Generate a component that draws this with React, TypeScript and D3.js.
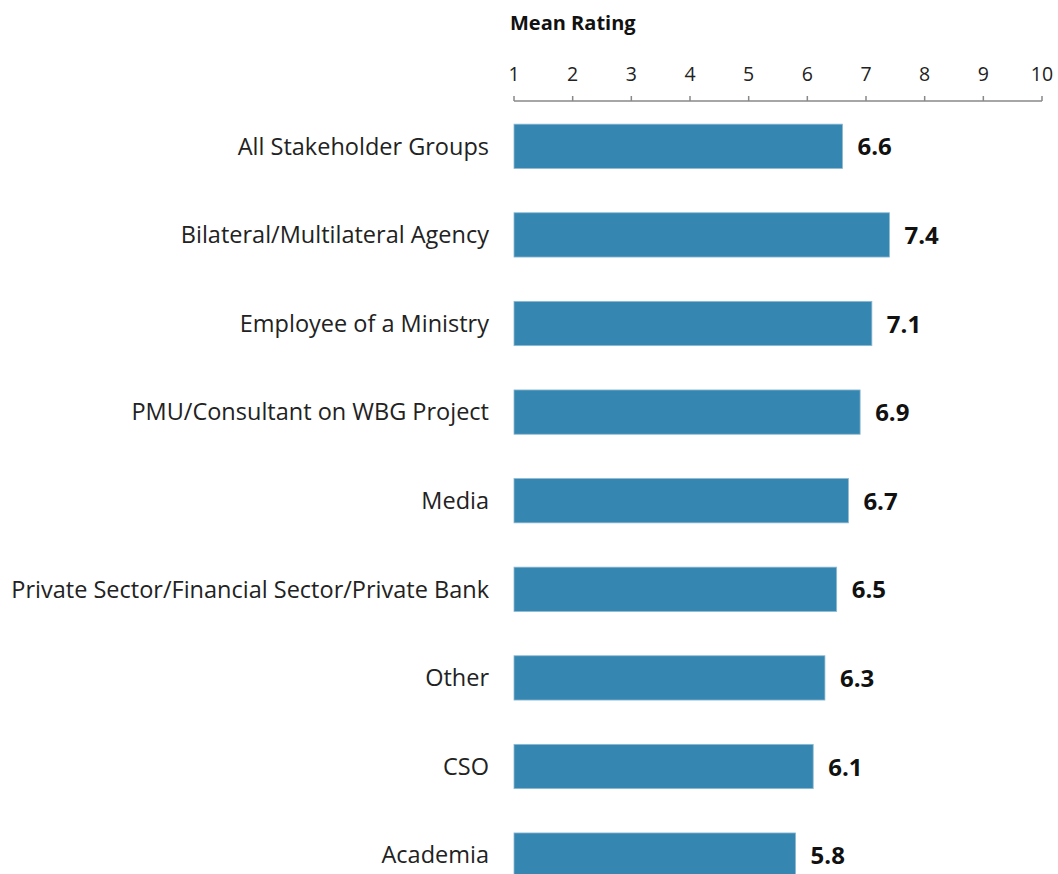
import { useEffect, useRef } from "react";
import * as d3 from "d3";

const categories = [
  "All Stakeholder Groups",
  "Bilateral/Multilateral Agency",
  "Employee of a Ministry",
  "PMU/Consultant on WBG Project",
  "Media",
  "Private Sector/Financial Sector/Private Bank",
  "Other",
  "CSO",
  "Academia",
];
const values = [6.6, 7.4, 7.1, 6.9, 6.7, 6.5, 6.3, 6.1, 5.8];
const tickValues = [1, 2, 3, 4, 5, 6, 7, 8, 9, 10];

export default function App() {
  const svgRef = useRef<SVGSVGElement>(null);
  const width = 1058;
  const height = 874;

  useEffect(() => {
    if (!svgRef.current) return;
    const svg = d3.select(svgRef.current);
    svg.selectAll("*").remove();

    const font = "Open Sans, sans-serif";
    const x = d3.scaleLinear().domain([1, 10]).range([514, 1042]);
    const y = d3
      .scaleBand<string>()
      .domain(categories)
      .range([102, 102 + 9 * 88.6])
      .paddingInner(0.5)
      .paddingOuter(0.25);

    // title
    svg.append("text")
      .attr("x", 510)
      .attr("y", 30)
      .style("font-family", font)
      .style("font-size", "20px")
      .style("font-weight", "bold")
      .style("fill", "#111")
      .text("Mean Rating");

    // axis
    const axisY = 101;
    svg.append("line")
      .attr("x1", x(1)).attr("x2", x(10))
      .attr("y1", axisY).attr("y2", axisY)
      .style("stroke", "#888").style("stroke-width", 1.5);

    svg.selectAll(".tick")
      .data(tickValues)
      .enter()
      .append("line")
      .attr("x1", (d) => x(d)).attr("x2", (d) => x(d))
      .attr("y1", axisY - 5).attr("y2", axisY)
      .style("stroke", "#888").style("stroke-width", 1.5);

    svg.selectAll(".tickLabel")
      .data(tickValues)
      .enter()
      .append("text")
      .attr("x", (d) => x(d))
      .attr("y", 81)
      .attr("text-anchor", "middle")
      .style("font-family", font)
      .style("font-size", "19.5px")
      .style("fill", "#222")
      .text((d) => d);

    // bars
    svg.selectAll(".bar")
      .data(values)
      .enter()
      .append("rect")
      .attr("x", x(1))
      .attr("y", (d, i) => y(categories[i])!)
      .attr("width", (d) => x(d) - x(1))
      .attr("height", y.bandwidth())
      .style("fill", "#3586b1")
      .style("stroke", "#8fbad3")
      .style("stroke-width", 0.8);

    // category labels
    svg.selectAll(".catLabel")
      .data(categories)
      .enter()
      .append("text")
      .attr("x", 489)
      .attr("y", (d) => y(d)! + y.bandwidth() / 2)
      .attr("dy", "0.35em")
      .attr("text-anchor", "end")
      .style("font-family", font)
      .style("font-size", "23.5px")
      .style("fill", "#222")
      .text((d) => d);

    // value labels
    svg.selectAll(".valLabel")
      .data(values)
      .enter()
      .append("text")
      .attr("x", (d) => x(d) + 15)
      .attr("y", (d, i) => y(categories[i])! + y.bandwidth() / 2)
      .attr("dy", "0.38em")
      .style("font-family", font)
      .style("font-size", "24px")
      .style("font-weight", "bold")
      .style("fill", "#111")
      .text((d) => d.toFixed(1));
  }, []);

  return (
    <svg
      ref={svgRef}
      width={width}
      height={height}
      style={{ position: "absolute", left: 0, top: 0, background: "#fff" }}
    ></svg>
  );
}
